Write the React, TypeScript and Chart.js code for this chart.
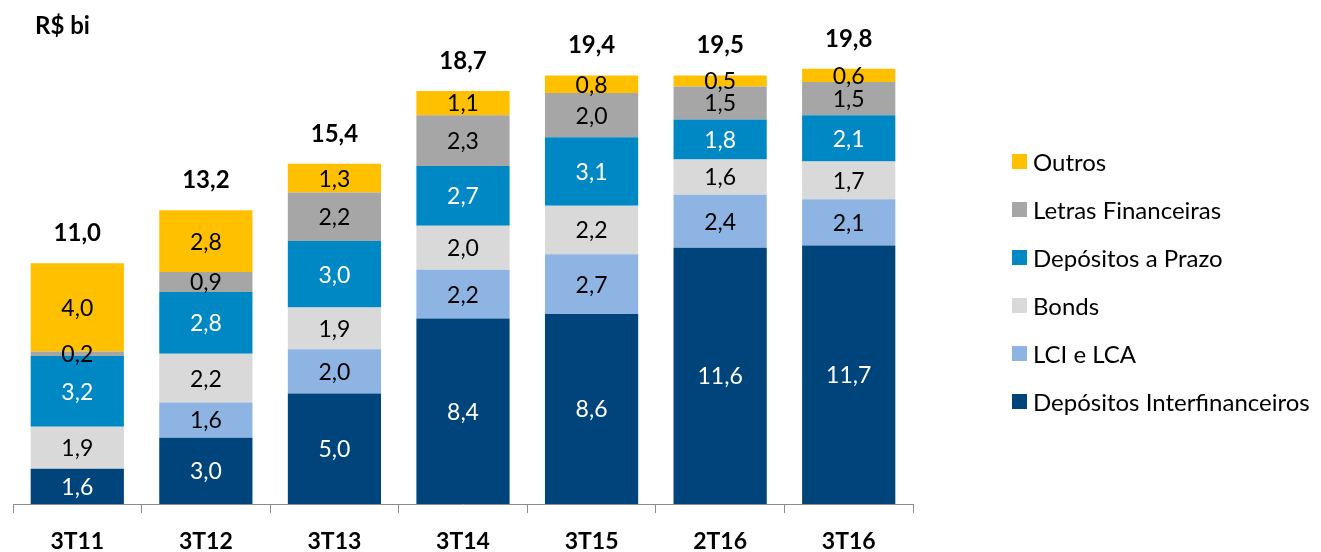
import React, { useEffect, useRef } from "react";
import { Chart, registerables } from "chart.js";

Chart.register(...registerables);

const categories = ["3T11", "3T12", "3T13", "3T14", "3T15", "2T16", "3T16"];
const interfinanceiros = [1.6, 3.0, 5.0, 8.4, 8.6, 11.6, 11.7];
const lciLca = [0, 1.6, 2.0, 2.2, 2.7, 2.4, 2.1];
const bonds = [1.9, 2.2, 1.9, 2.0, 2.2, 1.6, 1.7];
const depositosPrazo = [3.2, 2.8, 3.0, 2.7, 3.1, 1.8, 2.1];
const letrasFinanceiras = [0.2, 0.9, 2.2, 2.3, 2.0, 1.5, 1.5];
const outros = [4.0, 2.8, 1.3, 1.1, 0.8, 0.5, 0.6];
const totals = [11.0, 13.2, 15.4, 18.7, 19.4, 19.5, 19.8];

const FONT = "Lato, 'Open Sans', sans-serif";

const fmt = (v: number) => v.toFixed(1).replace(".", ",");

const labelsPlugin = {
  id: "customLabels",
  afterDatasetsDraw(chart: any) {
    const ctx = chart.ctx;
    const yScale = chart.scales.y;
    ctx.save();
    ctx.textAlign = "center";
    ctx.textBaseline = "middle";
    chart.data.datasets.forEach((ds: any, di: number) => {
      const meta = chart.getDatasetMeta(di);
      meta.data.forEach((el: any, i: number) => {
        const v = ds.data[i];
        if (!v) return;
        const p = el.getProps(["x", "y", "base"], true);
        ctx.font = `23px ${FONT}`;
        ctx.fillStyle = ds.labelColor;
        ctx.fillText(fmt(v), p.x, (p.y + p.base) / 2 + 1);
      });
    });
    // totals
    const meta0 = chart.getDatasetMeta(0);
    ctx.font = `bold 24px ${FONT}`;
    ctx.fillStyle = "#000";
    ctx.textBaseline = "bottom";
    totals.forEach((t, i) => {
      let sum = 0;
      chart.data.datasets.forEach((ds: any) => (sum += ds.data[i] || 0));
      const x = meta0.data[i].x;
      const y = yScale.getPixelForValue(sum);
      ctx.fillText(fmt(t), x, y - 18);
    });
    // unit label
    ctx.font = `bold 24px ${FONT}`;
    ctx.textAlign = "left";
    ctx.textBaseline = "middle";
    ctx.fillText("R$ bi", 35, 26);
    // legend
    const items = [...chart.data.datasets].reverse();
    ctx.font = `24px ${FONT}`;
    items.forEach((ds: any, k: number) => {
      const cy = 162 + k * 48;
      ctx.fillStyle = ds.backgroundColor;
      ctx.fillRect(1012, cy - 8, 15, 15);
      ctx.fillStyle = "#000";
      ctx.fillText(ds.label, 1033, cy + 1);
    });
    ctx.restore();
  },
};

export default function App() {
  const ref = useRef<HTMLCanvasElement>(null);
  useEffect(() => {
    document.body.style.margin = "0";
    document.body.style.overflow = "hidden";
    const mk = (label: string, data: number[], color: string, labelColor: string) => ({
      label,
      data,
      backgroundColor: color,
      borderWidth: 0,
      labelColor,
      categoryPercentage: 1,
      barPercentage: 0.725,
    });
    const chart = new Chart(ref.current!, {
      type: "bar",
      data: {
        labels: categories,
        datasets: [
          mk("Depósitos Interfinanceiros", interfinanceiros, "#00447C", "#ffffff"),
          mk("LCI e LCA", lciLca, "#8DB4E2", "#000000"),
          mk("Bonds", bonds, "#D9D9D9", "#000000"),
          mk("Depósitos a Prazo", depositosPrazo, "#0088C4", "#ffffff"),
          mk("Letras Financeiras", letrasFinanceiras, "#A6A6A6", "#000000"),
          mk("Outros", outros, "#FFC000", "#000000"),
        ] as any,
      },
      options: {
        responsive: false,
        animation: false,
        layout: { padding: { left: 13, right: 408, top: 18, bottom: 0 } },
        plugins: { legend: { display: false }, tooltip: { enabled: false } },
        scales: {
          x: {
            stacked: true,
            afterFit: (s: any) => {
              s.height = 48;
            },
            grid: {
              display: true,
              drawOnChartArea: false,
              drawTicks: true,
              tickLength: 9,
              color: "#8C8C8C",
              offset: true,
            },
            border: { display: true, color: "#8C8C8C", width: 1 },
            ticks: {
              color: "#000",
              padding: 15,
              font: { family: FONT, size: 23, weight: "bold" },
            },
          },
          y: {
            stacked: true,
            display: false,
            min: 0,
            max: 22,
          },
        },
      },
      plugins: [labelsPlugin],
    });
    return () => chart.destroy();
  }, []);
  return (
    <div style={{ width: 1321, height: 552 }}>
      <canvas ref={ref} width={1321} height={552} />
    </div>
  );
}
